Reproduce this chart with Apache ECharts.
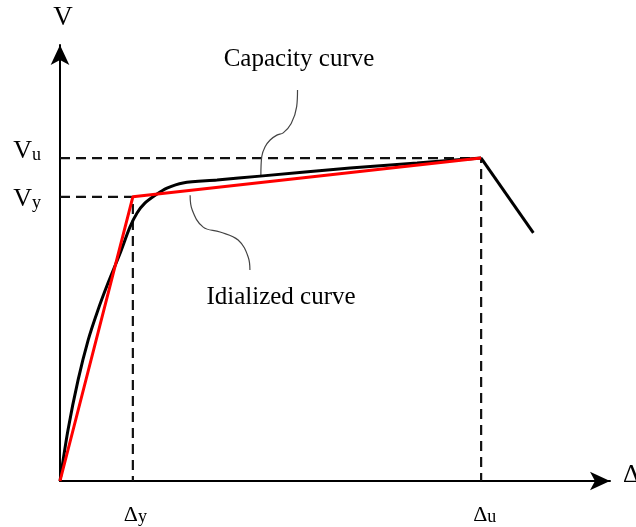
<!DOCTYPE html>
<html><head><meta charset="utf-8">
<script src="https://cdn.jsdelivr.net/npm/echarts@6/dist/echarts.min.js"></script>
<style>html,body{margin:0;padding:0;background:#fff}#c{width:636px;height:527px}</style>
</head><body><div id="c"></div>
<script>
// Capacity (pushover) curve (Δ in units where Δu = 10, V in units where Vu = 1)
const capacityX = [0, 0.19, 0.43, 0.67, 0.90, 1.14, 1.43, 1.66, 1.83, 2.02, 2.26, 2.54, 2.92, 3.73, 4.75, 6.89, 8.48, 10.0];
const capacityV = [0, 0.158, 0.313, 0.437, 0.529, 0.613, 0.706, 0.786, 0.830, 0.861, 0.885, 0.907, 0.923, 0.932, 0.944, 0.969, 0.985, 1.0];
// Post-peak softening branch
const softeningX = [10.0, 11.24];
const softeningV = [1.0, 0.768];
// Idealized bilinear curve
const idealX = [0, 1.73, 10.0];
const idealV = [0, 0.88, 1.0];
// Key points
const deltaY = 1.73, deltaU = 10.0, Vy = 0.88, Vu = 1.0;
// Axis extents
const xMax = 13.06, yMax = 1.35;
// Leader lines for annotations
const capLeaderX = [5.64, 5.62, 5.49, 5.30, 5.15, 4.99, 4.87, 4.79, 4.77];
const capLeaderV = [1.211, 1.159, 1.107, 1.078, 1.071, 1.056, 1.035, 1.004, 0.947];
const idLeaderX = [3.09, 3.14, 3.40, 3.80, 4.23, 4.47, 4.51];
const idLeaderV = [0.885, 0.839, 0.786, 0.771, 0.746, 0.693, 0.653];
// Texts
const axisNameX = 'Δ', axisNameY = 'V';
const capText = 'Capacity curve', idText = 'Idialized curve';

const FONT = "'Liberation Serif','Times New Roman',serif";
const zip = (xs, ys) => xs.map((x, i) => [x, ys[i]]);

const chart = echarts.init(document.getElementById('c'), null, {renderer: 'canvas'});
const axisCommon = {
  type: 'value', min: 0,
  axisLine: {show: true, symbol: ['none', 'arrow'], symbolSize: [14, 20], lineStyle: {color: '#000', width: 2}},
  axisTick: {show: false}, axisLabel: {show: false}, splitLine: {show: false}
};
chart.setOption({
  animation: false,
  grid: {left: 60, right: 26, top: 45, bottom: 46},
  xAxis: Object.assign({}, axisCommon, {max: xMax}),
  yAxis: Object.assign({}, axisCommon, {max: yMax}),
  series: [
    {type: 'line', data: [[0, Vu], [deltaU, Vu], [deltaU, 0]], symbol: 'none', silent: true,
     lineStyle: {color: '#111', width: 2.2, type: [10, 6]}},
    {type: 'line', data: [[0, Vy], [deltaY, Vy], [deltaY, 0]], symbol: 'none', silent: true,
     lineStyle: {color: '#111', width: 2.2, type: [10, 6]}},
    {type: 'line', data: zip(capLeaderX, capLeaderV), symbol: 'none', smooth: 0.4,
     lineStyle: {color: '#444', width: 1.2}},
    {type: 'line', data: zip(idLeaderX, idLeaderV), symbol: 'none', smooth: 0.4,
     lineStyle: {color: '#444', width: 1.2}},
    {type: 'line', data: zip(capacityX, capacityV), symbol: 'none', smooth: 0.3,
     lineStyle: {color: '#000', width: 3}},
    {type: 'line', data: zip(softeningX, softeningV), symbol: 'none',
     lineStyle: {color: '#000', width: 3}},
    {type: 'line', data: zip(idealX, idealV), symbol: 'none',
     lineStyle: {color: '#ff0000', width: 3}, z: 3}
  ]
});

const px = (x, y) => chart.convertToPixel({gridIndex: 0}, [x, y]);
const o = px(0, 0);
const pVu = px(0, Vu), pVy = px(0, Vy), pDy = px(deltaY, 0), pDu = px(deltaU, 0);
const xEnd = px(xMax, 0), yEnd = px(0, yMax);
const rich = {
  m: {fontFamily: FONT, fontSize: 26, color: '#000', verticalAlign: 'bottom'},
  s: {fontFamily: FONT, fontSize: 18, color: '#000', verticalAlign: 'bottom'},
  d: {fontFamily: FONT, fontSize: 22, color: '#000', verticalAlign: 'bottom'}
};
function label(text, x, y, align, vAlign) {
  return {type: 'text', x: x, y: y, silent: true,
    style: {text: text, rich: rich, align: align, verticalAlign: vAlign, fontFamily: FONT}};
}
chart.setOption({
  graphic: [
    label('{m|V}{s|u}', o[0] - 19, pVu[1] + 6, 'right', 'bottom'),
    label('{m|V}{s|y}', o[0] - 19, pVy[1] + 15, 'right', 'bottom'),
    label('{d|Δ}{s|y}', pDy[0] - 9, o[1] + 45, 'left', 'bottom'),
    label('{d|Δ}{s|u}', pDu[0] - 8, o[1] + 45, 'left', 'bottom'),
    {type: 'text', x: o[0] + 3, y: yEnd[1] - 27, silent: true,
     style: {text: axisNameY, font: '27px ' + FONT, fill: '#000', align: 'center', verticalAlign: 'middle'}},
    {type: 'text', x: xEnd[0] + 13, y: o[1] + 7, silent: true,
     style: {text: axisNameX, font: '26px ' + FONT, fill: '#000', align: 'left', verticalAlign: 'bottom'}},
    {type: 'text', x: 299, y: 72, silent: true,
     style: {text: capText, font: '25px ' + FONT, fill: '#000', align: 'center', verticalAlign: 'bottom'}},
    {type: 'text', x: 281, y: 310, silent: true,
     style: {text: idText, font: '25px ' + FONT, fill: '#000', align: 'center', verticalAlign: 'bottom'}}
  ]
});
</script></body></html>
